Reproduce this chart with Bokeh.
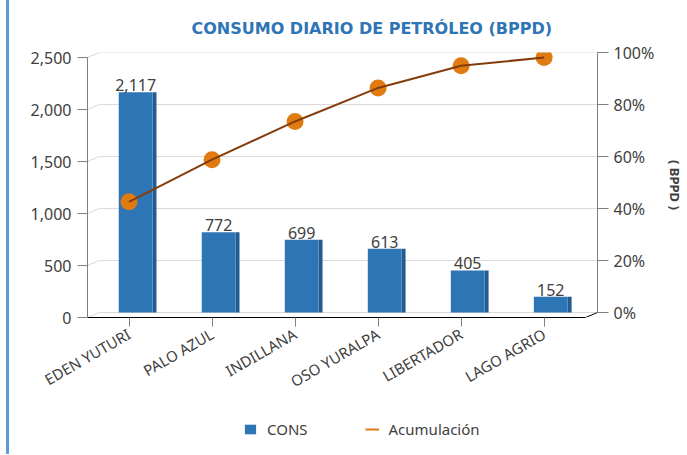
import math
from bokeh.plotting import figure
from bokeh.layouts import column
from bokeh.models import (Range1d, LinearAxis, FixedTicker, NumeralTickFormatter,
                          PrintfTickFormatter, ColumnDataSource, Legend, LegendItem)
from bokeh.transform import dodge
from bokeh.core.properties import value
from bokeh.embed import file_html
from bokeh.resources import INLINE

# ---------------- data ----------------
CATEGORIES = ["EDEN YUTURI", "PALO AZUL", "INDILLANA", "OSO YURALPA", "LIBERTADOR", "LAGO AGRIO"]
CONS = [2117, 772, 699, 613, 405, 152]
ACUM_PCT = [44.5, 60.7, 75.4, 88.3, 96.8, 100.0]
CONS_TICKS = [0, 500, 1000, 1500, 2000, 2500]
PCT_TICKS = [0, 20, 40, 60, 80, 100]
TITLE = "CONSUMO DIARIO DE PETRÓLEO (BPPD)"
RIGHT_LABEL = "( BPPD )"
SERIES = ["CONS", "Acumulación"]

# ---------------- style / geometry ----------------
W = 678
H_MAIN, H_LEG = 410, 44
TOP = 52
FRAME_H = 265
DEPTH_X, DEPTH_Y = 12, 5          # pseudo-3D back-wall offset (px)
CAT_PX = 84.0
FONT = "Noto Sans"
TXT = "#404040"
BLUE = "#2e75b6"
BLUE_SIDE = "#235c8f"
ORANGE = "#e07b12"
BROWN = "#843c0c"
GRID = "#d9d9d9"

n = len(CATEGORIES)
xs = list(range(n))
cons_max = CONS_TICKS[-1]
pct_max = PCT_TICKS[-1]
dy_cons = DEPTH_Y * cons_max / (FRAME_H - DEPTH_Y)
dy_pct = DEPTH_Y * pct_max / (FRAME_H - DEPTH_Y)
dx = DEPTH_X / CAT_PX
x0, x1 = -0.5, n - 0.5 + dx

BAR_SHIFT = 6.7 / CAT_PX
BAR_W = 34.2 / CAT_PX
SIDE_W = 4.0 / CAT_PX

src = ColumnDataSource(dict(x=xs, cons=CONS, pct=ACUM_PCT,
                            label=[f"{v:,}" for v in CONS]))

p = figure(width=W, height=H_MAIN, x_range=Range1d(x0, x1),
           y_range=Range1d(-dy_cons, cons_max),
           output_backend="svg", toolbar_location=None, y_axis_location=None,
           min_border_left=78, min_border_right=84, min_border_top=TOP,
           min_border_bottom=H_MAIN - TOP - FRAME_H)
p.extra_y_ranges = {
    "left": Range1d(0, cons_max + dy_cons),
    "pct_back": Range1d(-dy_pct, pct_max),
    "pct_front": Range1d(0, pct_max + dy_pct),
}
p.outline_line_color = None
p.xgrid.visible = False
p.ygrid.visible = False

# back wall grid lines + left wall connectors
p.segment(x0=x0 + dx, x1=x1, y0=CONS_TICKS, y1=CONS_TICKS, line_color=GRID, line_width=1)
p.segment(x0=x0, x1=x0 + dx, y0=[t - dy_cons for t in CONS_TICKS], y1=CONS_TICKS,
          line_color=GRID, line_width=1)
# floor front-right edge
p.segment(x0=[n - 0.5], x1=[n - 0.5 + dx], y0=[-dy_cons], y1=[0], line_color="black", line_width=1)

# bars (side face + front face)
p.vbar(x=dodge("x", BAR_SHIFT + BAR_W / 2 + SIDE_W / 2, range=p.x_range), width=SIDE_W,
       top="cons", bottom=0, source=src, fill_color=BLUE_SIDE, line_color=None)
p.vbar(x=dodge("x", BAR_SHIFT, range=p.x_range), width=BAR_W, top="cons", bottom=0,
       source=src, fill_color=BLUE, line_color=None)
p.text(x=dodge("x", BAR_SHIFT, range=p.x_range), y="cons", text="label", source=src,
       text_align="center", text_baseline="bottom", y_offset=-1,
       text_font=value(FONT), text_font_size="16px", text_color=TXT)

# cumulative line
p.scatter("x", "pct", source=src, y_range_name="pct_front", size=17,
          fill_color=ORANGE, line_color=None)
p.line("x", "pct", source=src, y_range_name="pct_front", line_color=BROWN, line_width=2)

# axes
left = LinearAxis(y_range_name="left", ticker=FixedTicker(ticks=CONS_TICKS),
                  formatter=NumeralTickFormatter(format="0,0"), bounds=(0, cons_max))
right = LinearAxis(y_range_name="pct_back", ticker=FixedTicker(ticks=PCT_TICKS),
                   formatter=PrintfTickFormatter(format="%d%%"), bounds=(0, pct_max),
                   axis_label=RIGHT_LABEL)
for ax, so, to in ((left, 6, 10), (right, 5, 11)):
    ax.axis_line_color = "#7f7f7f"
    ax.major_tick_line_color = "#7f7f7f"
    ax.major_tick_out = to
    ax.major_tick_in = 0
    ax.minor_tick_line_color = None
    ax.major_label_text_font = FONT
    ax.major_label_text_font_size = "16px"
    ax.major_label_text_color = TXT
    ax.major_label_standoff = so
right.axis_label_text_font = FONT
right.axis_label_text_font_style = "bold"
right.axis_label_text_font_size = "13px"
right.axis_label_text_color = TXT
right.axis_label_standoff = 9
p.add_layout(left, "left")
p.add_layout(right, "right")

xa = p.xaxis[0]
xa.ticker = FixedTicker(ticks=xs)
xa.major_label_overrides = {i: c for i, c in zip(xs, CATEGORIES)}
xa.major_label_orientation = math.pi / 6
xa.bounds = (-0.5, n - 0.5)
xa.axis_line_color = "black"
xa.major_tick_line_color = "#7f7f7f"
xa.major_tick_out = 9
xa.major_tick_in = 0
xa.minor_tick_line_color = None
xa.major_label_text_font = FONT
xa.major_label_text_font_size = "15px"
xa.major_label_text_color = TXT
xa.major_label_standoff = 6

# title
p.title.text = TITLE
p.title.align = "left"
p.title.offset = 104
p.title.text_font = "DejaVu Sans"
p.title.text_font_style = "bold"
p.title.text_font_size = "16px"
p.title.text_color = BLUE
p.title.standoff = 29

# ---------------- legend strip ----------------
lg = figure(width=W, height=H_LEG, x_range=Range1d(0, 1), y_range=Range1d(0, 1),
            output_backend="svg", toolbar_location=None,
            x_axis_location=None, y_axis_location=None, min_border=0)
lg.outline_line_color = None
lg.border_fill_color = None
lg.background_fill_color = None
lg.xgrid.visible = False
lg.ygrid.visible = False
# proxy renderers (placed far outside the visible range) that only provide legend swatches
r_bar = lg.vbar(x=[-100], top=[-100], bottom=[-101], width=0.1, fill_color=BLUE, line_color=None)
r_line = lg.line(x=[-100, -99], y=[-100, -100], line_color=ORANGE, line_width=2)
legend = Legend(items=[LegendItem(label=SERIES[0], renderers=[r_bar]),
                       LegendItem(label=SERIES[1], renderers=[r_line])],
                location=(156, 15), orientation="horizontal",
                glyph_width=14, glyph_height=12, label_standoff=10, spacing=57,
                border_line_alpha=0, background_fill_alpha=0, padding=0, margin=0,
                label_text_font=FONT, label_text_font_size="15px", label_text_color=TXT)
lg.add_layout(legend)

layout = column(p, lg, spacing=0,
                styles={"margin-left": "6px", "border-left": "3px solid #5b9bd5"})

open("out.html", "w").write(file_html(layout, INLINE))
